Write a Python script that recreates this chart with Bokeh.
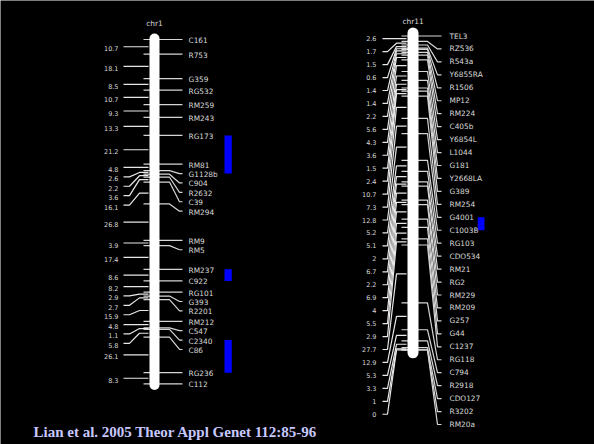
import numpy as np
from bokeh.plotting import figure
from bokeh.models import Range1d
from bokeh.embed import file_html
from bokeh.resources import INLINE
from bokeh.core.properties import value

# ---------------- data ----------------
chr1_markers = ["C161", "R753", "G359", "RG532", "RM259", "RM243", "RG173", "RM81",
                "G1128b", "C904", "R2632", "C39", "RM294", "RM9", "RM5", "RM237",
                "C922", "RG101", "G393", "R2201", "RM212", "C547", "C2340", "C86",
                "RG236", "C112"]
chr1_dist = [10.7, 18.1, 8.5, 10.7, 9.3, 13.3, 21.2, 4.8, 2.6, 2.2, 3.6, 16.1, 26.8,
             3.9, 17.4, 8.6, 8.2, 2.9, 2.7, 15.9, 4.8, 1.1, 5.8, 26.1, 8.3]
chr1_qtl = [("RG173", "G1128b"), ("RM237", "C922"), ("C2340", "RG236")]

chr11_markers = ["TEL3", "RZ536", "R543a", "Y6855RA", "R1506", "MP12", "RM224", "C405b",
                 "Y6854L", "L1044", "G181", "Y2668LA", "G389", "RM254", "G4001", "C1003B",
                 "RG103", "CDO534", "RM21", "RG2", "RM229", "RM209", "G257", "G44",
                 "C1237", "RG118", "C794", "R2918", "CDO127", "R3202", "RM20a"]
chr11_dist = [2.6, 1.7, 1.5, 0.6, 1.4, 1.4, 2.2, 5.6, 4.3, 3.6, 1.5, 2.4, 10.7, 7.3,
              12.8, 5.2, 5.1, 2, 6.7, 2.2, 6.9, 4, 5.5, 2.9, 27.7, 12.9, 5.3, 3.3, 1, 0]
chr11_qtl = [("G4001", "C1003B")]

citation = "Lian et al. 2005 Theor Appl Genet 112:85-96"

# ---------------- layout (pixels) ----------------
W, H = 594, 444
L1 = dict(name="chr1", top_px=39.0, bot_px=383.4, cx=154.0, cw=10, pad_px=1.0,
          tick_l=143, b1=169, b2=179, tick_r=182, label_x=188,
          dlabel_x=118, d0=123, d1=129, d2=139, d3=148,
          spacing=9.4, dtext_dy=2, mtext_dy=1, name_y=23,
          qtl_l=224.0, qtl_r=231.3, font="7.4px", dfont="6.5px")
L11 = dict(name="chr11", top_px=35.5, bot_px=349.3, cx=412.5, cw=11, pad_px=3.0,
           tick_l=401, b1=427, b2=437, tick_r=441, label_x=449,
           dlabel_x=376, d0=382, d1=387, d2=396, d3=406,
           spacing=12.95, dtext_dy=0, mtext_dy=0, name_y=20.7,
           qtl_l=477.3, qtl_r=484.0, font="7.4px", dfont="6.5px")

LINE = "#d6d6d6"
TXT = "#d8d8d8"

p = figure(width=W, height=H, output_backend="svg", toolbar_location=None,
           x_range=Range1d(0, W), x_axis_type=None, y_axis_type=None,
           min_border=0, background_fill_color="black", border_fill_color="black")
p.outline_line_color = None
p.grid.visible = False


def draw(markers, dists, qtls, L, range_name):
    pos = np.concatenate([[0.0], np.cumsum(dists)])
    total = pos[-1]
    ppc = (L["bot_px"] - L["top_px"]) / total
    rng = Range1d(start=(H - L["top_px"]) / ppc, end=-L["top_px"] / ppc)
    if range_name is None:
        p.y_range = rng
        kw = {}
    else:
        p.extra_y_ranges[range_name] = rng
        kw = {"y_range_name": range_name}

    def cm(px):
        return (px - L["top_px"]) / ppc

    sp = L["spacing"] / ppc

    def push(desired):
        out, prev = [], -1e9
        for d in desired:
            y = max(d, prev + sp)
            out.append(y)
            prev = y
        return out

    lab = push(pos)
    mids = (pos[:-1] + pos[1:]) / 2
    dlab = push(mids)

    # marker connectors
    xs = [[L["tick_l"], L["b1"], L["b2"], L["tick_r"]] for _ in markers]
    ys = [[m, m, l, l] for m, l in zip(pos, lab)]
    p.multi_line(xs, ys, line_color=LINE, line_width=1.2, **kw)
    # interval connectors
    xs = [[L["d0"], L["d1"], L["d2"], L["d3"]] for _ in mids]
    ys = [[l, l, m, m] for m, l in zip(mids, dlab)]
    p.multi_line(xs, ys, line_color="#e8e8e8", line_width=1.2, **kw)
    # chromosome
    pad = L["pad_px"] / ppc
    p.segment(x0=[L["cx"]], y0=[-pad], x1=[L["cx"]], y1=[total + pad],
              line_width=L["cw"], line_cap="round", line_color="white", **kw)
    # labels
    p.text(x=[L["label_x"]] * len(markers), y=lab, text=markers,
           text_font=value("DejaVu Sans"), text_font_size=value(L["font"]),
           text_color=TXT, text_baseline="middle", text_align="left",
           y_offset=L["mtext_dy"], **kw)
    p.text(x=[L["dlabel_x"]] * len(dists), y=dlab, text=[f"{d:g}" for d in dists],
           text_font=value("DejaVu Sans"), text_font_size=value(L["dfont"]),
           text_color=TXT, text_baseline="middle", text_align="right",
           y_offset=L["dtext_dy"], **kw)
    p.text(x=[L["cx"]], y=[cm(L["name_y"])], text=[L["name"]],
           text_font=value("DejaVu Sans"), text_font_size=value(L["font"]),
           text_color=TXT, text_baseline="middle", text_align="center", **kw)
    # QTL bars
    idx = {m: i for i, m in enumerate(markers)}
    tops = [lab[idx[a]] for a, b in qtls]
    bots = [lab[idx[b]] for a, b in qtls]
    p.quad(left=[L["qtl_l"]] * len(qtls), right=[L["qtl_r"]] * len(qtls),
           top=tops, bottom=bots, fill_color="#0000ff", line_color=None, **kw)
    return cm


cm1 = draw(chr1_markers, chr1_dist, chr1_qtl, L1, None)
draw(chr11_markers, chr11_dist, chr11_qtl, L11, "chr11")

p.text(x=[33], y=[cm1(431)], text=[citation],
       text_font=value("Liberation Serif"), text_font_size=value("15px"),
       text_font_style="bold", text_color="#c8c8ff",
       text_baseline="alphabetic", text_align="left")

open("out.html", "w").write(file_html(p, INLINE))
